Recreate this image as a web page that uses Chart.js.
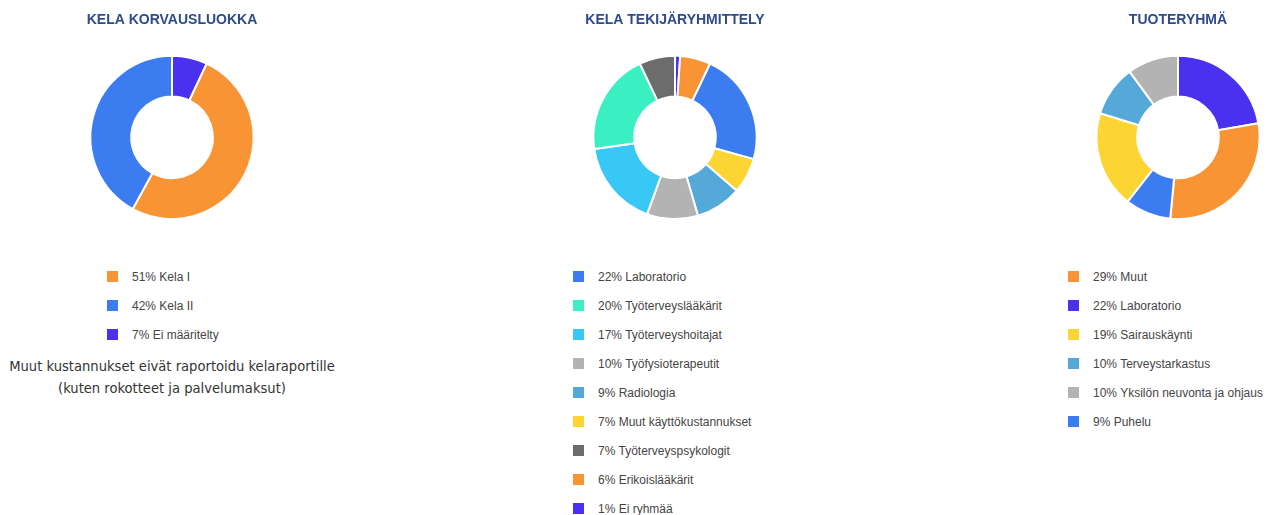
<!DOCTYPE html>
<html lang="fi">
<head>
<meta charset="utf-8">
<script src="https://cdn.jsdelivr.net/npm/chart.js@4.4.1/dist/chart.umd.min.js"></script>
<style>
  body { margin: 0; width: 1286px; height: 515px; background: #fff; position: relative; overflow: hidden;
         font-family: "Liberation Sans", Arial, sans-serif; }
  canvas.donut { position: absolute; top: 0; }
  ul.legend { position: absolute; top: 263px; margin: 0; padding: 0; list-style: none; font-size: 12px; color: #454545; }
  ul.legend li { height: 29px; line-height: 29px; white-space: nowrap; }
  ul.legend span { display: inline-block; width: 11px; height: 11px; vertical-align: middle; margin-right: 14px; position: relative; top: -1px; }
  .note { position: absolute; left: 0; width: 344px; top: 355px; text-align: center; font-family: "DejaVu Sans Condensed", sans-serif;
          font-size: 14.6px; line-height: 22px; color: #333; white-space: nowrap; }
</style>
</head>
<body>
<canvas id="c1" class="donut" width="200" height="220" style="left:72px"></canvas>
<canvas id="c2" class="donut" width="200" height="220" style="left:575px"></canvas>
<canvas id="c3" class="donut" width="200" height="220" style="left:1078px"></canvas>
<ul id="l1" class="legend" style="left:107px"></ul>
<ul id="l2" class="legend" style="left:573px"></ul>
<ul id="l3" class="legend" style="left:1068px"></ul>
<div class="note">Muut kustannukset eivät raportoidu kelaraportille<br>(kuten rokotteet ja palvelumaksut)</div>
<script>
// Kela korvausluokka
const korvausLabels = ["Ei määritelty", "Kela I", "Kela II"];
const korvausValues = [7, 51, 42];
const korvausColors = ["#4a31f0", "#f89433", "#3b7cf0"];

// Kela tekijäryhmittely
const tekijaLabels = ["Ei ryhmää", "Erikoislääkärit", "Laboratorio", "Muut käyttökustannukset", "Radiologia",
  "Työfysioterapeutit", "Työterveyshoitajat", "Työterveyslääkärit", "Työterveyspsykologit"];
const tekijaValues = [1, 6, 22, 7, 9, 10, 17, 20, 7];
const tekijaColors = ["#4a31f0", "#f89433", "#3b7cf0", "#fdd532", "#55a9d9", "#b3b3b3", "#38c8f5", "#3af0c2", "#6c6c6c"];

// Tuoteryhmä
const tuoteLabels = ["Laboratorio", "Muut", "Puhelu", "Sairauskäynti", "Terveystarkastus", "Yksilön neuvonta ja ohjaus"];
const tuoteValues = [22, 29, 9, 19, 10, 10];
const tuoteColors = ["#4a31f0", "#f89433", "#3b7cf0", "#fdd532", "#55a9d9", "#b3b3b3"];

function piirra(id, otsikko, labels, values, colors) {
  new Chart(document.getElementById(id), {
    type: "doughnut",
    data: {
      labels: labels,
      datasets: [{ data: values, backgroundColor: colors, borderColor: "#fff", borderWidth: 2 }]
    },
    options: {
      responsive: false,
      animation: false,
      cutout: "50%",
      plugins: {
        legend: { display: false },
        tooltip: { enabled: false },
        title: {
          display: true,
          text: otsikko,
          color: "#2f4b8a",
          font: { size: 14, weight: "bold", family: "Liberation Sans" },
          padding: { top: 12, bottom: 26 }
        }
      }
    }
  });
}

// legenda suurimmasta pienimpään
function legenda(id, labels, values, colors) {
  const ul = document.getElementById(id);
  const rivit = labels.map((l, i) => ({ l: l, v: values[i], c: colors[i] }));
  rivit.sort((a, b) => b.v - a.v);
  rivit.forEach(r => {
    const li = document.createElement("li");
    li.innerHTML = `<span style="background:${r.c}"></span>${r.v}% ${r.l}`;
    ul.appendChild(li);
  });
}

piirra("c1", "KELA KORVAUSLUOKKA", korvausLabels, korvausValues, korvausColors);
piirra("c2", "KELA TEKIJÄRYHMITTELY", tekijaLabels, tekijaValues, tekijaColors);
piirra("c3", "TUOTERYHMÄ", tuoteLabels, tuoteValues, tuoteColors);

legenda("l1", korvausLabels, korvausValues, korvausColors);
legenda("l2", tekijaLabels, tekijaValues, tekijaColors);
legenda("l3", tuoteLabels, tuoteValues, tuoteColors);
</script>
</body>
</html>
